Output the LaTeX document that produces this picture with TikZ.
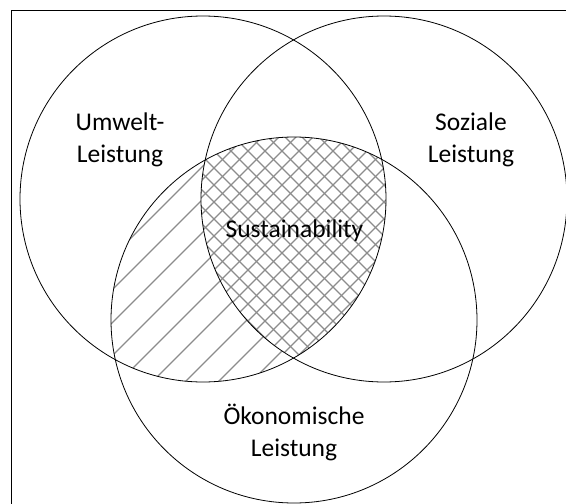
\documentclass[tikz,border=0pt]{standalone}
\usepackage{fontspec}
\setmainfont{Carlito}
\begin{document}
\begin{tikzpicture}[x=1pt,y=-1pt,
  circ/.style={draw=black,line width=0.8pt},
  hatch/.style={draw=black!45,line width=1.3pt},
  lbl/.style={font=\fontsize{25.5}{32}\selectfont, align=center, inner sep=0pt}]
\fill[white] (0,0) rectangle (566,504);
\useasboundingbox (0,0) rectangle (566,504);
% diagonal hatch: left circle and bottom circle
\begin{scope}
  \clip (203,199) circle[radius=183];
  \clip (294,320) circle[radius=183];
  \foreach \k in {-600,-567,...,700} \draw[hatch] (\k,540) -- ++(540,-540);
\end{scope}
% cross hatch: triple intersection
\begin{scope}
  \clip (203,199) circle[radius=183];
  \clip (294,320) circle[radius=183];
  \clip (384,199) circle[radius=183];
  \fill[white] (0,0) rectangle (566,504);
  \foreach \k in {-600,-583,...,700} {
    \draw[hatch] (\k,540) -- ++(540,-540);
    \draw[hatch] (\k,0) -- ++(540,540);
  }
\end{scope}
\draw[circ] (203,199) circle[radius=183];
\draw[circ] (384,199) circle[radius=183];
\draw[circ] (294,320) circle[radius=183];
\draw[line width=1pt] (11.3,10.3) rectangle (620,560);
\node[lbl] (umwelt) at (120,140) {Umwelt-\\Leistung};
\node[lbl] (sozial) at (471,140) {Soziale\\Leistung};
\node[lbl] (sust) at (294.5,231) {Sustainability};
\node[lbl] (oeko) at (294,432) {Ökonomische\\Leistung};
\end{tikzpicture}
\end{document}
